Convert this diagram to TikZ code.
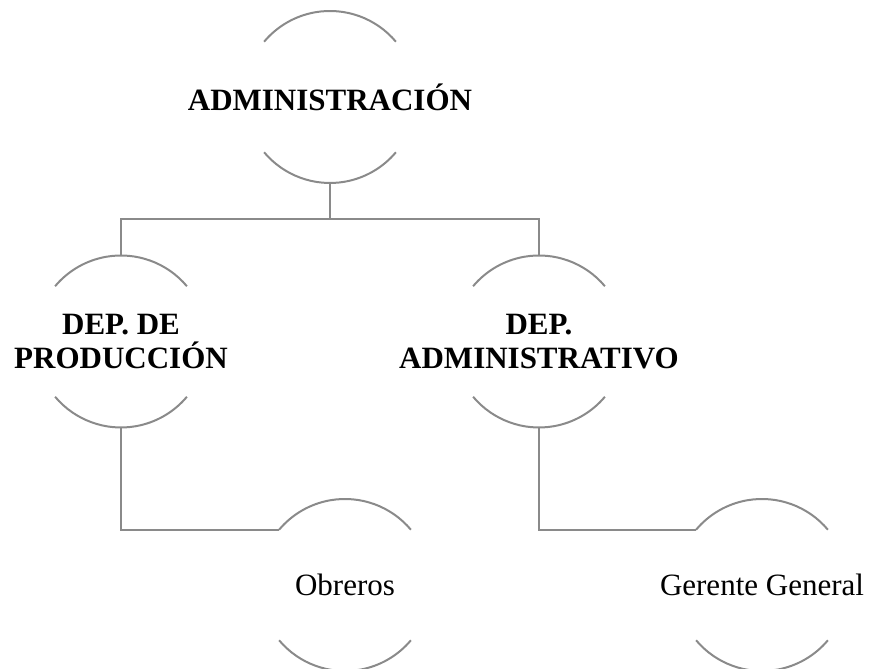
\documentclass[tikz,border=0pt]{standalone}
\usepackage{fontspec}
\setmainfont{Liberation Serif}
\definecolor{linegray}{RGB}{138,138,138}
\begin{document}
\begin{tikzpicture}[x=1pt,y=1pt,
  frame/.style={circle, minimum size=172pt, inner sep=0pt, outer sep=0pt},
  label/.style={inner sep=0pt, align=center, font=\fontsize{31}{34}\selectfont},
  boldlabel/.style={label, font=\fontsize{31}{34}\selectfont\bfseries},
  ring/.style={draw=linegray, line width=2pt},
  link/.style={draw=linegray, line width=2pt}]
\useasboundingbox (0,0) rectangle (871,669);
% frames
\node[frame] (root) at (330,572) {};
\node[frame] (L) at (121,327.5) {};
\node[frame] (R) at (539,327.5) {};
\node[frame] (O) at (345,84) {};
\node[frame] (G) at (762,84) {};
% texts
\node[boldlabel] (rootT) at (root.center) {ADMINISTRACIÓN};
\node[boldlabel] (LT) at (L.center) {DEP. DE\\PRODUCCIÓN};
\node[boldlabel] (RT) at (R.center) {DEP.\\ADMINISTRATIVO};
\node[label] (OT) at (O.center) {Obreros};
\node[label] (GT) at (G.center) {Gerente General};
% arcs
\foreach \n in {root,L,R,O,G}{
  \draw[ring] (\n.40) arc[start angle=40, end angle=140, radius=86pt];
  \draw[ring] (\n.220) arc[start angle=220, end angle=320, radius=86pt];
}
% connectors
\draw[link] (root.south) -- ++(0,-36) coordinate (rj);
\draw[link] (rj) -| (L.north);
\draw[link] (rj) -| (R.north);
\draw[link] (L.south) |- (O.140);
\draw[link] (R.south) |- (G.140);
\end{tikzpicture}
\end{document}
